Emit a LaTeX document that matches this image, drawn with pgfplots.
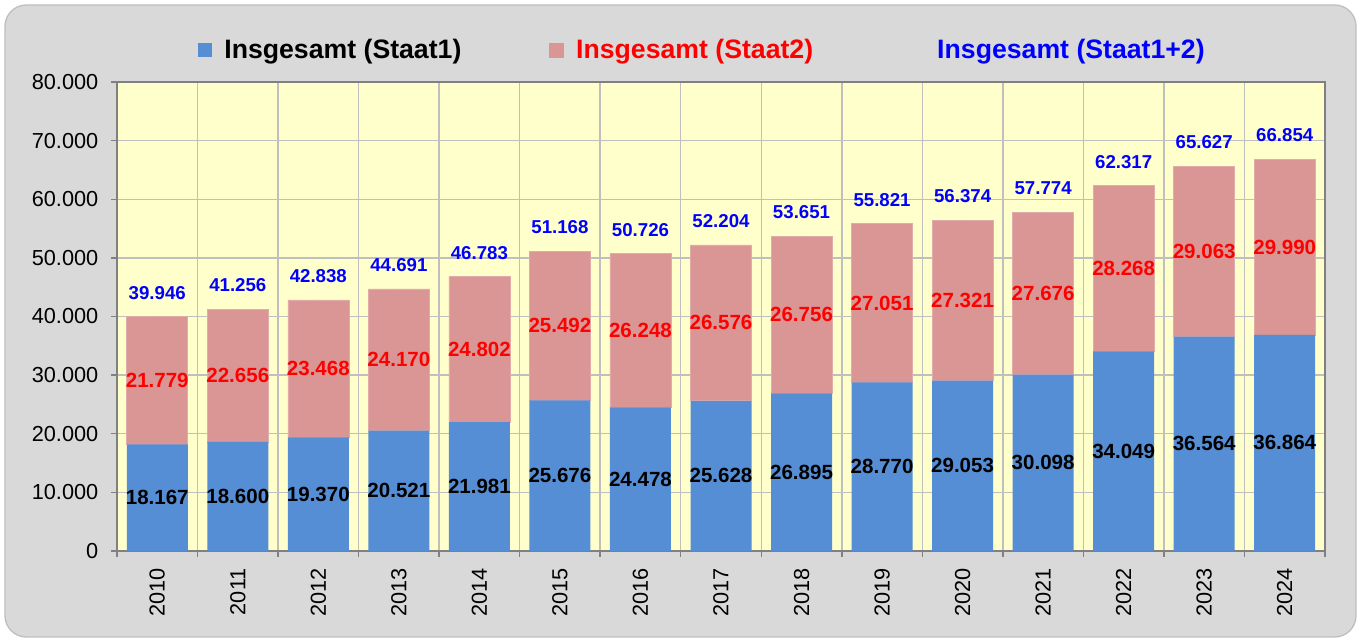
\documentclass[border=0pt]{standalone}
\usepackage{pgfplots}
\pgfplotsset{compat=1.18}
\usepackage{pgfplotstable}
\usepackage{fontspec}
\setmainfont{Liberation Sans}
\definecolor{bgout}{HTML}{D9D9D9}
\definecolor{bgborder}{HTML}{BFBFBF}
\definecolor{bgplot}{HTML}{FFFFCC}
\definecolor{barblue}{HTML}{558ED5}
\definecolor{barpink}{HTML}{D99694}
\definecolor{gridc}{HTML}{BFBFBF}
\definecolor{axisc}{HTML}{808080}
\definecolor{lblue}{HTML}{0000FF}
\definecolor{lred}{HTML}{FF0000}

\pgfplotstableread{
x year s1 s2
0 2010 18167 21779
1 2011 18600 22656
2 2012 19370 23468
3 2013 20521 24170
4 2014 21981 24802
5 2015 25676 25492
6 2016 24478 26248
7 2017 25628 26576
8 2018 26895 26756
9 2019 28770 27051
10 2020 29053 27321
11 2021 30098 27676
12 2022 34049 28268
13 2023 36564 29063
14 2024 36864 29990
}\datatable

\pgfplotsset{commonax/.style={
  scale only axis, width=906pt, height=351.75pt,
  xmin=-0.5, xmax=14.5, ymin=0, ymax=80000,
  at={(87.75pt,68.25pt)}, anchor=south west,
  /pgf/number format/fixed, /pgf/number format/precision=0,
  /pgf/number format/1000 sep={.},
  /pgf/number format/assume math mode=true,
}}

\begin{document}
\begin{tikzpicture}
\useasboundingbox (0,0) rectangle (1020.75pt,481.5pt);
\draw[fill=bgout, draw=bgborder, line width=1pt, rounded corners=16pt] (3.75pt,3.75pt) rectangle (1017pt,477.75pt);
\begin{axis}[commonax,
  ybar stacked, bar width=45.75pt,
  axis background/.style={fill=bgplot},
  axis line style={axisc, line width=1.2pt},
  xtick={0,...,14},
  xticklabels={2010,2011,2012,2013,2014,2015,2016,2017,2018,2019,2020,2021,2022,2023,2024},
  major x tick style={draw=none},
  minor xtick={-0.5,0.5,...,14.5},
  xtick pos=bottom, ytick pos=left,
  xminorgrids, ymajorgrids,
  grid style={gridc, line width=1.1pt},
  minor grid style={gridc, line width=1.1pt},
  ytick={0,10000,...,80000},
  scaled y ticks=false,
  tick align=outside,
  major tick length=4.5pt, minor tick length=4.5pt,
  tick style={axisc, line width=1.1pt},
  xticklabel style={rotate=90, anchor=east, xshift=-5pt, font=\fontsize{16.3pt}{19pt}\selectfont},
  yticklabel style={font=\fontsize{16.3pt}{19pt}\selectfont, xshift=-6pt},
  legend columns=3,
  legend style={draw=none, fill=none, at={(0.485,1.068)}, anchor=center,
    font=\fontsize{20pt}{24pt}\selectfont\bfseries,
    /tikz/every odd column/.append style={column sep=7pt},
    /tikz/every even column/.append style={column sep=64pt}},
]
\addplot[fill=barblue, draw=none,
  legend image code/.code={\fill[barblue] (0pt,-5.25pt) rectangle (10.5pt,5.25pt);}]
  table[x=x, y=s1]{\datatable};
\addlegendentry{Insgesamt (Staat1)}
\addplot[fill=barpink, draw=barpink!80!white, line width=0.5pt,
  legend image code/.code={\fill[barpink] (0pt,-5.25pt) rectangle (10.5pt,5.25pt);}]
  table[x=x, y=s2]{\datatable};
\addlegendentry{\textcolor{lred}{Insgesamt (Staat2)}}
\addlegendimage{empty legend}
\addlegendentry{\hspace{18pt}\textcolor{lblue}{Insgesamt (Staat1+2)}}
\end{axis}
\begin{axis}[commonax, hide axis, clip=false]
\addplot[only marks, mark=*, mark size=0pt, mark options={draw=none, fill=none},
  nodes near coords, point meta={\thisrow{s1}},
  nodes near coords style={anchor=center, text=black, font=\fontsize{15.4pt}{18pt}\selectfont\bfseries}]
  table[x=x, y expr=\thisrow{s1}/2]{\datatable};
\addplot[only marks, mark=*, mark size=0pt, mark options={draw=none, fill=none},
  nodes near coords, point meta={\thisrow{s2}},
  nodes near coords style={anchor=center, text=lred, font=\fontsize{15.4pt}{18pt}\selectfont\bfseries}]
  table[x=x, y expr=\thisrow{s1}+\thisrow{s2}/2]{\datatable};
\addplot[only marks, mark=*, mark size=0pt, mark options={draw=none, fill=none},
  nodes near coords, point meta={\thisrow{s1}+\thisrow{s2}},
  nodes near coords style={anchor=center, yshift=18pt, text=lblue, font=\fontsize{14pt}{16pt}\selectfont\bfseries}]
  table[x=x, y expr=\thisrow{s1}+\thisrow{s2}]{\datatable};
\end{axis}
\end{tikzpicture}
\end{document}
